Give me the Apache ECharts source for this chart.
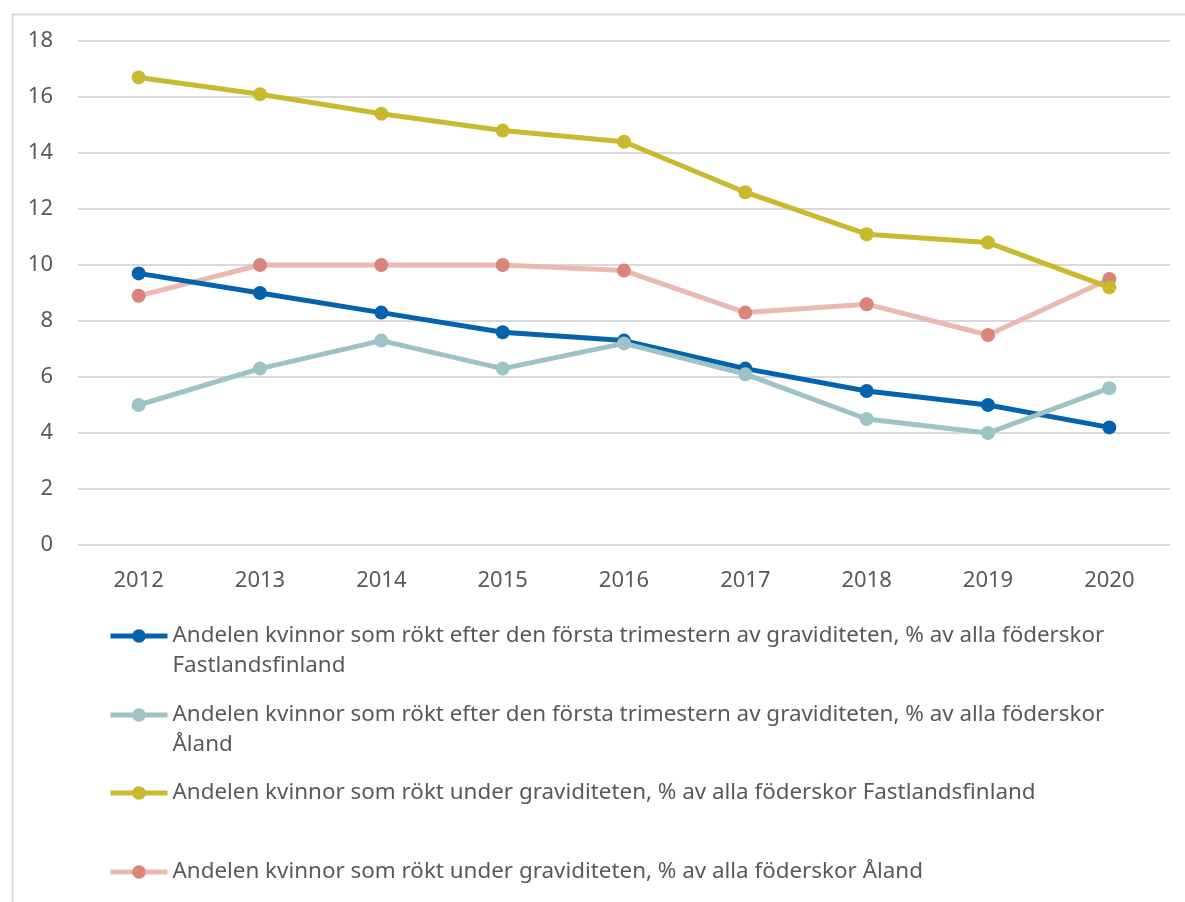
<!DOCTYPE html>
<html>
<head>
<meta charset="utf-8">
<title>Rökning under graviditeten</title>
<script src="https://cdn.jsdelivr.net/npm/echarts@6/dist/echarts.min.js"></script>
<style>
  html, body { margin: 0; padding: 0; background: #ffffff; }
  #chart { width: 1185px; height: 902px; }
</style>
</head>
<body>
<div id="chart"></div>
<script>
// Years on the category axis
const years = ['2012', '2013', '2014', '2015', '2016', '2017', '2018', '2019', '2020'];

// Share of mothers who smoked, percent of all mothers giving birth
const efterTrimesterFastland = [9.7, 9.0, 8.3, 7.6, 7.3, 6.3, 5.5, 5.0, 4.2];
const efterTrimesterAland = [5.0, 6.3, 7.3, 6.3, 7.2, 6.1, 4.5, 4.0, 5.6];
const underGraviditetFastland = [16.7, 16.1, 15.4, 14.8, 14.4, 12.6, 11.1, 10.8, 9.2];
const underGraviditetAland = [8.9, 10.0, 10.0, 10.0, 9.8, 8.3, 8.6, 7.5, 9.5];

// Value axis ticks
const yTicks = [0, 2, 4, 6, 8, 10, 12, 14, 16, 18];

// Series names, and their wrapped forms for the legend
const names = [
  'Andelen kvinnor som rökt efter den första trimestern av graviditeten, % av alla föderskor Fastlandsfinland',
  'Andelen kvinnor som rökt efter den första trimestern av graviditeten, % av alla föderskor Åland',
  'Andelen kvinnor som rökt under graviditeten, % av alla föderskor Fastlandsfinland',
  'Andelen kvinnor som rökt under graviditeten, % av alla föderskor Åland'
];
const legendLines = [
  ['Andelen kvinnor som rökt efter den första trimestern av graviditeten, % av alla föderskor', 'Fastlandsfinland'],
  ['Andelen kvinnor som rökt efter den första trimestern av graviditeten, % av alla föderskor', 'Åland'],
  ['Andelen kvinnor som rökt under graviditeten, % av alla föderskor Fastlandsfinland'],
  ['Andelen kvinnor som rökt under graviditeten, % av alla föderskor Åland']
];

const FONT = '"Noto Sans", "Open Sans", sans-serif';
const TEXT = '#595959';
const LINE_H = 30;

const lineColors = ['#0563ae', '#9dc3c6', '#c9b92e', '#ebb9b1'];
const markerColors = ['#0563ae', '#9dc3c6', '#c9b92e', '#d9857a'];
const seriesData = [efterTrimesterFastland, efterTrimesterAland, underGraviditetFastland, underGraviditetAland];

// One legend block per series, so each block can sit at its own row.
// Wrapped entries get a blank line on top so the icon lines up with the first text line.
const legendTops = [586, 665, 773, 852];
const legends = names.map((n, i) => {
  const lines = legendLines[i];
  const text = lines.length > 1 ? [' '].concat(lines).join('\n') : lines[0];
  return {
    data: [n],
    orient: 'vertical',
    left: 103,
    top: legendTops[i],
    itemWidth: 57,
    itemHeight: 17,
    selectedMode: false,
    formatter: () => text,
    lineStyle: { width: 5 },
    textStyle: {
      fontFamily: FONT,
      fontSize: 22.4,
      color: TEXT,
      lineHeight: LINE_H
    }
  };
});

const chart = echarts.init(document.getElementById('chart'), null, { renderer: 'canvas' });

chart.setOption({
  backgroundColor: '#ffffff',
  animation: false,
  graphic: [{
    type: 'rect',
    left: 10,
    top: 12,
    shape: { width: 1200, height: 920 },
    style: { fill: 'none', stroke: '#d9d9d9', lineWidth: 2 },
    silent: true,
    z: -10
  }],
  legend: legends,
  grid: { left: 78, right: 15, top: 41, bottom: 357, containLabel: false },
  xAxis: {
    type: 'category',
    data: years,
    boundaryGap: true,
    axisLine: { show: false },
    axisTick: { show: false },
    axisLabel: { fontFamily: FONT, fontSize: 22, color: TEXT, margin: 25 }
  },
  yAxis: {
    type: 'value',
    min: yTicks[0],
    max: yTicks[yTicks.length - 1],
    interval: yTicks[1] - yTicks[0],
    axisLine: { show: false },
    axisTick: { show: false },
    axisLabel: { fontFamily: FONT, fontSize: 22, color: TEXT, margin: 25 },
    splitLine: { lineStyle: { color: '#d9d9d9', width: 2 } }
  },
  series: names.map((n, i) => ({
    name: n,
    type: 'line',
    data: seriesData[i],
    symbol: 'circle',
    symbolSize: 14,
    showSymbol: true,
    lineStyle: { color: lineColors[i], width: 5 },
    itemStyle: { color: markerColors[i] },
    z: i === 3 ? 1 : 2 + i
  }))
});
</script>
</body>
</html>
